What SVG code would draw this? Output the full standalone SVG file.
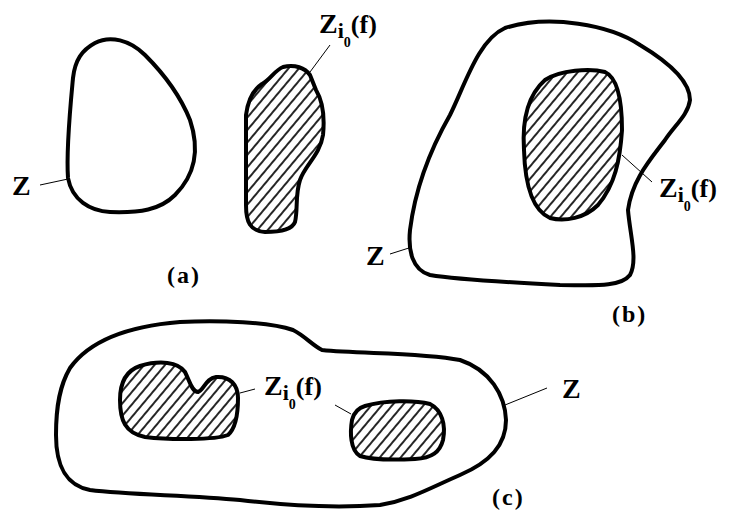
<svg xmlns="http://www.w3.org/2000/svg" width="730" height="519" viewBox="0 0 730 519">
<defs>
<pattern id="hatch" width="8" height="10" patternUnits="userSpaceOnUse" patternTransform="rotate(40)">
<line x1="1" y1="-2" x2="1" y2="12" stroke="#000" stroke-width="1.7"/>
</pattern>
</defs>
<style>
.out{fill:none;stroke:#000;stroke-width:4;stroke-linejoin:round}
.hat{fill:url(#hatch);stroke:#000;stroke-width:4;stroke-linejoin:round}
.lead{stroke:#000;stroke-width:1;fill:none}
.t{font-family:"Liberation Serif",serif;font-weight:bold;font-size:28px;fill:#000}
.cap{font-family:"Liberation Serif",serif;font-weight:bold;font-size:24px;fill:#000;letter-spacing:2px}
</style>
<rect width="730" height="519" fill="#fff"/>
<g id="a-Z">
<path class="out" d="M95,43 C110,35 130,40 145,55 C165,75 180,95 190,120 C200,150 195,175 175,195 C160,210 140,213 110,212 C90,211 72,200 68,178 C66,150 70,110 73,78 C75,60 82,50 95,43 Z"/>
<text class="t" x="12" y="195">Z</text>
</g>
<g id="a-Zi0">
<path class="hat" d="M283,67 C295,64 305,68 310,75 L316,90 C322,100 325,115 323,135 C320,155 305,165 300,180 C295,195 298,210 295,222 C292,230 280,232 265,232 C250,231 246,222 246,205 L246,115 C248,100 253,90 262,84 C270,80 275,70 283,67 Z"/>
<text class="t" x="319" y="33">Z<tspan font-size="22" dy="5">i</tspan><tspan font-size="14" dy="9">0</tspan><tspan font-size="26" dy="-14">(f)</tspan></text>
</g>
<g id="a-label"><text class="cap" x="167" y="283">(a)</text></g>
<g id="b-Z">
<path class="out" d="M505,28 C550,14 610,25 640,45 C665,60 690,80 690,100 C688,115 675,125 665,140 C650,160 632,180 628,210 C630,235 638,260 630,275 C620,288 590,285 560,285 C520,283 460,280 430,275 C412,270 408,250 410,230 C415,190 430,150 450,115 C465,85 478,40 505,28 Z"/>
<text class="t" x="366" y="265">Z</text>
</g>
<g id="b-Zi0">
<path class="hat" d="M545,80 C560,70 590,68 605,72 C618,78 622,100 622,130 C620,160 615,185 598,205 C585,218 565,222 550,218 C532,210 525,185 524,150 C522,120 528,95 545,80 Z"/>
<text class="t" x="659" y="197">Z<tspan font-size="22" dy="5">i</tspan><tspan font-size="14" dy="9">0</tspan><tspan font-size="26" dy="-14">(f)</tspan></text>
</g>
<g id="b-label"><text class="cap" x="612" y="322">(b)</text></g>
<g id="c-Z">
<path class="out" d="M70,368 C90,340 130,326 180,322 C220,320 270,322 293,330 C305,336 312,345 322,350 C360,354 420,352 460,360 C490,370 505,395 506,420 C506,445 490,462 460,475 C430,488 410,500 380,505 C340,508 290,506 240,500 C190,495 130,495 90,490 C65,485 56,465 56,435 C56,405 60,385 70,368 Z"/>
<text class="t" x="562" y="398">Z</text>
</g>
<g id="c-Zi0-left">
<path class="hat" d="M140,366 C160,360 178,362 185,372 C190,382 192,392 198,392 C204,390 206,378 216,377 C230,376 238,385 238,398 C238,415 236,428 228,435 C215,440 170,440 145,437 C125,433 120,420 120,400 C120,380 128,370 140,366 Z"/>
<text class="t" x="264" y="395">Z<tspan font-size="22" dy="5">i</tspan><tspan font-size="14" dy="9">0</tspan><tspan font-size="26" dy="-14">(f)</tspan></text>
</g>
<g id="c-Zi0-right">
<path class="hat" d="M365,406 C385,400 415,400 430,404 C442,410 446,425 443,440 C440,452 432,458 415,459 C395,460 372,460 360,456 C350,450 350,432 352,420 C354,412 358,408 365,406 Z"/>
</g>
<g id="c-label"><text class="cap" x="492" y="505">(c)</text></g>
<g id="connectors">
<line class="lead" x1="40" y1="185" x2="68" y2="179"/>
<line class="lead" x1="330" y1="45" x2="310" y2="72"/>
<line class="lead" x1="622" y1="155" x2="652" y2="182"/>
<line class="lead" x1="390" y1="254" x2="412" y2="247"/>
<line class="lead" x1="240" y1="393" x2="255" y2="389"/>
<line class="lead" x1="335" y1="405" x2="351" y2="414"/>
<line class="lead" x1="505" y1="405" x2="547" y2="388"/>
</g>
</svg>
